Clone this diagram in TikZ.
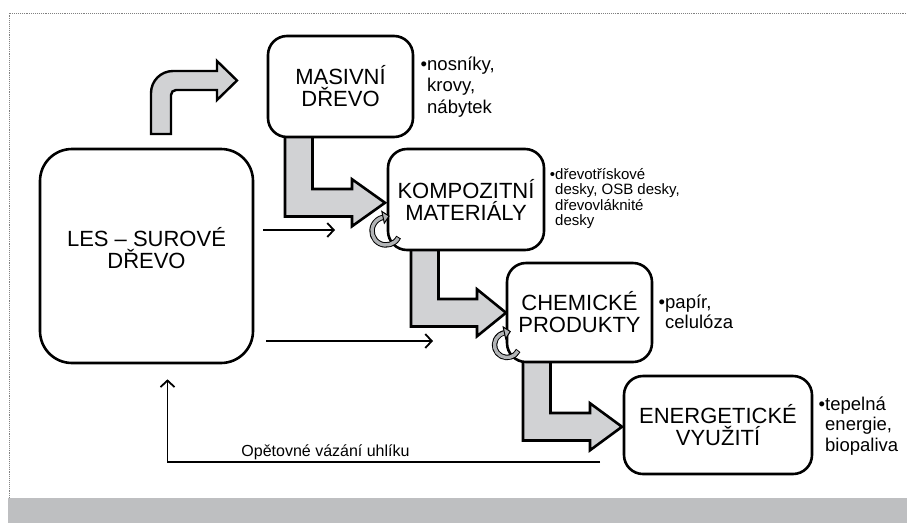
\documentclass[tikz,border=0pt]{standalone}
\usepackage{fontspec}
\setmainfont{Liberation Sans}
\usetikzlibrary{arrows.meta,calc}
\definecolor{arrgray}{RGB}{209,210,212}
\definecolor{bandgray}{RGB}{190,191,193}
\definecolor{curlgray}{RGB}{178,180,182}
\newcommand\boxfont{\fontsize{22}{22}\selectfont}
\newcommand\sidefont{\fontsize{18.5}{20.5}\selectfont}
\newcommand\smallfont{\fontsize{15}{15.5}\selectfont}
\tikzset{
  box/.style={draw, line width=2.6pt, rounded corners=19pt, fill=white, align=center, font=\boxfont, inner sep=0pt},
  boxtext/.style={align=center, font=\boxfont, inner sep=0pt},
  side/.style={anchor=base west, inner sep=0pt, font=\sidefont},
  bigarr/.style={draw, line width=2.6pt, fill=arrgray, line join=miter},
  thinarr/.style={line width=1.8pt, line join=miter, -{Straight Barb[length=6.5pt,width=14pt]}}
}
\begin{document}
\begin{tikzpicture}[x=1pt,y=-1pt,line join=round]
	\useasboundingbox (0,0) rectangle (907,523);
	\fill[bandgray] (8,498) rectangle (907,523);
	\draw[densely dotted, gray, line width=0.9pt] (9,498)--(9,13)--(907,13);
	\foreach \xa/\ys/\yi/\xh/\xt in {285/137/189/352/385, 411/250/299/477/506, 523/362/413/590/622}
	\draw[bigarr] (\xa,\ys)--(\xa,\yi+27.5)--(\xh,\yi+27.5)--(\xh,\yi+37.25)--(\xt,\yi+13.75)--(\xh,\yi-9.75)--(\xh,\yi)--(\xa+27.5,\yi)--(\xa+27.5,\ys);
	\draw[bigarr, line width=2.4pt] (151,134)--(151,93) .. controls (151,80.85) and (160.85,71) .. (173,71)--(217,71)--(217,61)--(237,80.5)--(217,100)--(217,90)--(176,90) .. controls (173.24,90) and (171,92.24) .. (171,95)--(171,134)--cycle;
	\node[box, rounded corners=32pt, minimum width=213pt, minimum height=214pt] (les) at (146.5,256) {};
	\node[boxtext] (lestext) at (146.5,248) {LES – SUROVÉ\\DŘEVO};
	\node[box, minimum width=145pt, minimum height=101pt] (masiv) at (340.5,86.5) {MASIVNÍ\\DŘEVO};
	\node[box, minimum width=156pt, minimum height=101pt] (kompo) at (466,199.5) {KOMPOZITNÍ\\MATERIÁLY};
	\node[box, minimum width=145pt, minimum height=99pt] (chem) at (579.5,312.5) {CHEMICKÉ\\PRODUKTY};
	\node[box, minimum width=188pt, minimum height=98pt] (energ) at (718,425) {ENERGETICKÉ\\VYUŽITÍ};
	\foreach \cx/\cy/\r in {386/231/14, 507/345/12.5}
	{
		\begin{scope}[shift={(\cx,\cy)}]
			\draw[line width=5.4pt] (-26:\r pt) arc[start angle=-26, end angle=-258, radius=\r pt];
			\draw[line width=3.4pt, curlgray] (-30:\r pt) arc[start angle=-30, end angle=-258, radius=\r pt];
			\filldraw[fill=curlgray, line width=1pt, line join=miter, rotate=102] (\r pt-6pt,0pt)--(\r pt+6pt,0pt)--(\r pt,-6pt)--cycle;
		\end{scope}
	}
	\node[side, font=\fontsize{18.5}{21.5}\selectfont] (masivlist) at (427,70) {\begin{tabular}[t]{@{}l@{}}\llap{•}nosníky,\\krovy,\\nábytek\end{tabular}};
	\node[side, font=\smallfont] (kompolist) at (555,179) {\begin{tabular}[t]{@{}l@{}}\llap{•}dřevotřískové\\desky, OSB desky,\\dřevovláknité\\desky\end{tabular}};
	\node[side] (chemlist) at (665,308) {\begin{tabular}[t]{@{}l@{}}\llap{•}papír,\\celulóza\end{tabular}};
	\node[side] (energlist) at (825,410) {\begin{tabular}[t]{@{}l@{}}\llap{•}tepelná\\energie,\\biopaliva\end{tabular}};
	\coordinate (t1) at (335,230);
	\coordinate (t2) at (433,341);
	\coordinate (ret) at (600,462);
	\draw[thinarr] ($(les.east)+(9,-26)$)--(t1);
	\draw[thinarr] ($(les.east)+(12,85)$)--(t2);
	\draw[thinarr] (ret) -| ($(les.south)+(21,15)$);
	\node[anchor=base, font=\fontsize{16}{18}\selectfont] (vazba) at (325.5,456) {Opětovné vázání uhlíku};
\end{tikzpicture}
\end{document}
